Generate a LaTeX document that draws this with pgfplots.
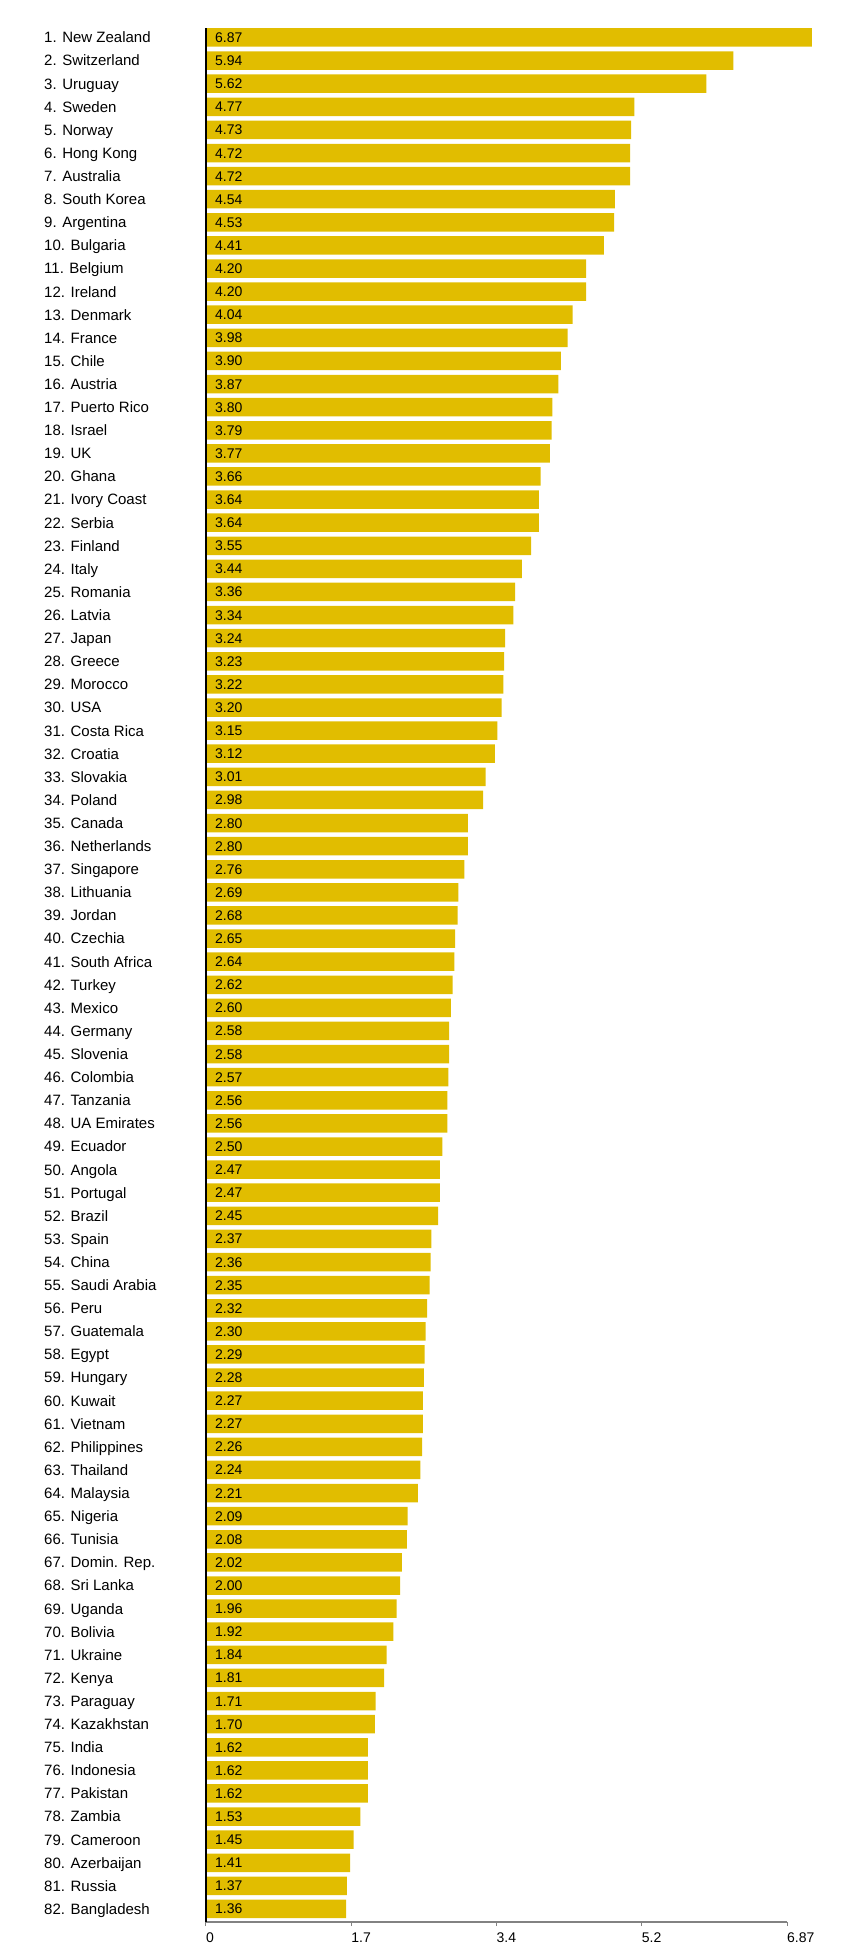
\documentclass[border=0pt]{standalone}
\usepackage{fontspec}
\setmainfont{Liberation Sans}
\usepackage{pgfplots}
\usepackage{pgfplotstable}
\pgfplotsset{compat=1.18}
\definecolor{bargold}{RGB}{225,189,0}
\definecolor{axgray}{RGB}{130,130,130}
\pgfplotstableread{
r name v
82 {82. Bangladesh} 1.36
81 {81. Russia} 1.37
80 {80. Azerbaijan} 1.41
79 {79. Cameroon} 1.45
78 {78. Zambia} 1.53
77 {77. Pakistan} 1.62
76 {76. Indonesia} 1.62
75 {75. India} 1.62
74 {74. Kazakhstan} 1.70
73 {73. Paraguay} 1.71
72 {72. Kenya} 1.81
71 {71. Ukraine} 1.84
70 {70. Bolivia} 1.92
69 {69. Uganda} 1.96
68 {68. Sri Lanka} 2.00
67 {67. Domin. Rep.} 2.02
66 {66. Tunisia} 2.08
65 {65. Nigeria} 2.09
64 {64. Malaysia} 2.21
63 {63. Thailand} 2.24
62 {62. Philippines} 2.26
61 {61. Vietnam} 2.27
60 {60. Kuwait} 2.27
59 {59. Hungary} 2.28
58 {58. Egypt} 2.29
57 {57. Guatemala} 2.30
56 {56. Peru} 2.32
55 {55. Saudi Arabia} 2.35
54 {54. China} 2.36
53 {53. Spain} 2.37
52 {52. Brazil} 2.45
51 {51. Portugal} 2.47
50 {50. Angola} 2.47
49 {49. Ecuador} 2.50
48 {48. UA Emirates} 2.56
47 {47. Tanzania} 2.56
46 {46. Colombia} 2.57
45 {45. Slovenia} 2.58
44 {44. Germany} 2.58
43 {43. Mexico} 2.60
42 {42. Turkey} 2.62
41 {41. South Africa} 2.64
40 {40. Czechia} 2.65
39 {39. Jordan} 2.68
38 {38. Lithuania} 2.69
37 {37. Singapore} 2.76
36 {36. Netherlands} 2.80
35 {35. Canada} 2.80
34 {34. Poland} 2.98
33 {33. Slovakia} 3.01
32 {32. Croatia} 3.12
31 {31. Costa Rica} 3.15
30 {30. USA} 3.20
29 {29. Morocco} 3.22
28 {28. Greece} 3.23
27 {27. Japan} 3.24
26 {26. Latvia} 3.34
25 {25. Romania} 3.36
24 {24. Italy} 3.44
23 {23. Finland} 3.55
22 {22. Serbia} 3.64
21 {21. Ivory Coast} 3.64
20 {20. Ghana} 3.66
19 {19. UK} 3.77
18 {18. Israel} 3.79
17 {17. Puerto Rico} 3.80
16 {16. Austria} 3.87
15 {15. Chile} 3.90
14 {14. France} 3.98
13 {13. Denmark} 4.04
12 {12. Ireland} 4.20
11 {11. Belgium} 4.20
10 {10. Bulgaria} 4.41
9 {9. Argentina} 4.53
8 {8. South Korea} 4.54
7 {7. Australia} 4.72
6 {6. Hong Kong} 4.72
5 {5. Norway} 4.73
4 {4. Sweden} 4.77
3 {3. Uruguay} 5.62
2 {2. Switzerland} 5.94
1 {1. New Zealand} 6.87
}\data

\begin{document}
\begin{tikzpicture}
\useasboundingbox (0pt,0pt) rectangle (850pt,1960pt);
\begin{axis}[
 at={(206pt,38pt)}, anchor=south west,
 scale only axis, width=581pt, height=1894pt,
 xmin=0, xmax=6.87, ymin=0.437, ymax=82.411,
 axis x line*=bottom, axis y line*=left,
 x axis line style={draw=axgray, line width=2pt},
 y axis line style={draw=black, line width=1.2pt},
 xtick={0,1.7175,3.435,5.1525,6.87}, xticklabels={0,1.7,3.4,5.2,6.87},
 ytick={1,...,82}, yticklabels from table={\data}{name},
 tick align=outside, major tick length=4pt,
 x tick style={draw=axgray, line width=1pt}, y tick style={draw=none},
 xticklabel style={font=\fontsize{14}{14}\selectfont, anchor=north west, inner sep=0pt, yshift=-7pt},
 yticklabel style={font=\fontsize{15}{15}\selectfont, anchor=base west, inner sep=0pt, xshift=-158pt, yshift=-5.4pt},
 clip=false, axis on top,
 /pgf/number format/assume math mode=true,
]
\addplot[xbar, bar width=18.5pt, fill=bargold, draw=none]
  table[x expr=\thisrow{v}+0.2955, y expr=83-\thisrow{r}]{\data};
\addplot[only marks, mark=*, mark size=0.1pt, mark options={draw=none,fill=none},
  point meta=explicit,
  nodes near coords={\pgfmathprintnumber[fixed,fixed zerofill,precision=2,assume math mode=true]{\pgfplotspointmeta}},
  every node near coord/.append style={font=\fontsize{14}{14}\selectfont, anchor=base west, inner sep=0pt, xshift=9pt, yshift=-5pt, text=black}]
  table[x expr=0, y expr=83-\thisrow{r}, meta=v]{\data};
\end{axis}
\end{tikzpicture}
\end{document}
